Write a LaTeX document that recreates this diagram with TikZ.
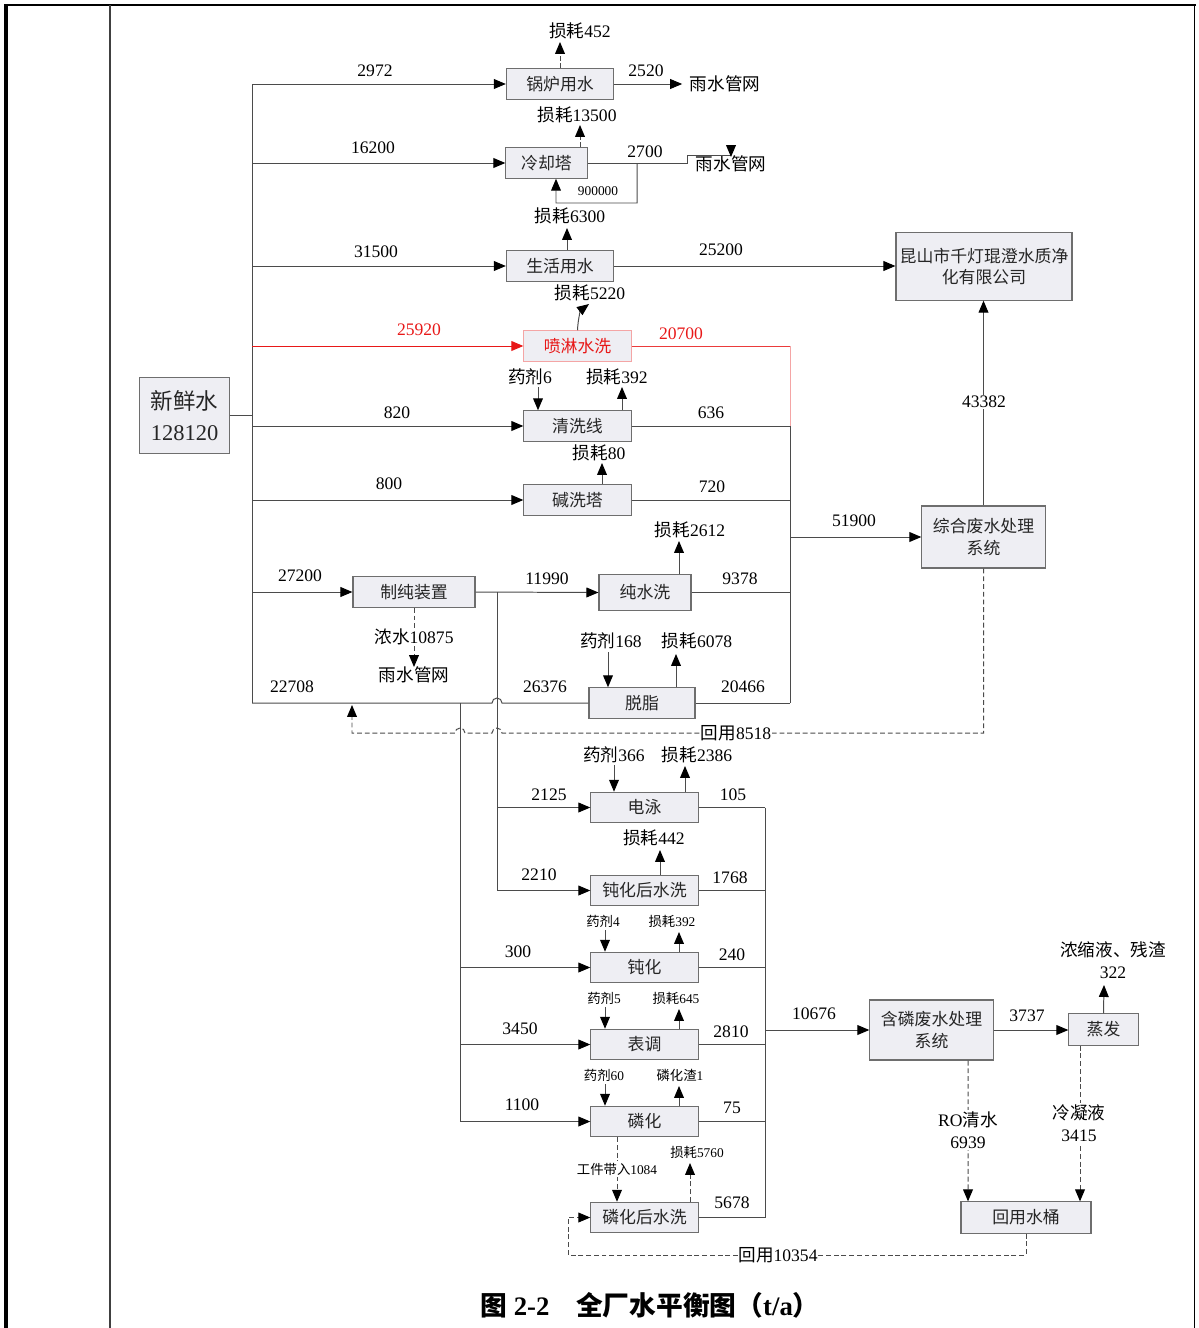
\documentclass[tikz,border=0pt]{standalone}
\usepackage{fontspec}
\setmainfont{Liberation Serif}
\newfontfamily\cjk{Noto Sans CJK SC}
\usepackage{tikz}
\usetikzlibrary{arrows.meta,calc,positioning}
\definecolor{boxfill}{RGB}{238,238,243}
\definecolor{boxedge}{RGB}{110,110,110}
\definecolor{pipe}{RGB}{75,75,75}
\definecolor{sprayred}{RGB}{232,24,24}
\definecolor{spraypink}{RGB}{244,165,165}
\newcommand{\zh}[1]{{\cjk #1}}

\begin{document}
\begin{tikzpicture}[x=0.025cm, y=-0.025cm,
  box/.style={draw=boxedge, fill=boxfill, line width=0.8pt, minimum height=0.76cm,
              inner sep=0pt, align=center, text=black!85, font=\fontsize{12}{15}\selectfont},
  redbox/.style={box, draw=spraypink, text=sprayred},
  pipeline/.style={draw=pipe, line width=0.7pt},
  arr/.style={pipeline, -{Triangle[length=8.5pt,width=7pt,color=black]}},
  redarr/.style={pipeline, draw=sprayred, -{Triangle[length=8.5pt,width=7pt,color=sprayred]}},
  darr/.style={arr, dash pattern=on 3.5pt off 2pt},
  num/.style={font=\fontsize{12.5}{15}\selectfont, inner sep=1pt},
  tinylbl/.style={font=\fontsize{9.5}{11}\selectfont, inner sep=1pt},
  twoline/.style={num, align=center, fill=white, font=\fontsize{12.5}{15.5}\selectfont}
]
\useasboundingbox (0,0) rectangle (1198,1328);

% ── Frame ──
\draw[line width=2.2pt] (6,4) -- (6,1328);
\draw[line width=1.8pt] (5,5) -- (1196,5);
\draw[line width=1.4pt] (1194.5,5) -- (1194.5,1328);
\draw[line width=1pt, black!75] (110,5) -- (110,1328);

% ── Boxes ──
\node[box, minimum width=2.23cm, minimum height=1.88cm, font=\fontsize{16}{22}\selectfont]
  (fresh) at (184.5,415.5) {\zh{新鲜水}\\128120};
\node[box, minimum width=2.68cm] (boiler) at (560,84) {\zh{锅炉用水}};
\node[box, minimum width=2.03cm] (cool) at (546.5,163) {\zh{冷却塔}};
\node[box, minimum width=2.68cm] (domestic) at (560,266) {\zh{生活用水}};
\node[redbox, minimum width=2.68cm] (spray) at (577.5,346) {\zh{喷淋水洗}};
\node[box, minimum width=2.68cm] (clean) at (577.5,426) {\zh{清洗线}};
\node[box, minimum width=2.68cm] (alkali) at (577.5,500) {\zh{碱洗塔}};
\node[box, minimum width=3.05cm] (pure) at (414,592) {\zh{制纯装置}};
\node[box, minimum width=2.3cm, minimum height=0.88cm] (purewash) at (645,592.5) {\zh{纯水洗}};
\node[box, minimum width=2.65cm] (degrease) at (642,703) {\zh{脱脂}};
\node[box, minimum width=2.68cm] (ep) at (644.5,807.5) {\zh{电泳}};
\node[box, minimum width=2.68cm] (passwash) at (644.5,890.5) {\zh{钝化后水洗}};
\node[box, minimum width=2.68cm] (passiv) at (644.5,967.5) {\zh{钝化}};
\node[box, minimum width=2.68cm] (surface) at (644.5,1044.5) {\zh{表调}};
\node[box, minimum width=2.68cm] (phos) at (644.5,1121.5) {\zh{磷化}};
\node[box, minimum width=2.68cm] (phoswash) at (644.5,1217.5) {\zh{磷化后水洗}};
\node[box, minimum width=4.4cm, minimum height=1.68cm] (plant) at (984,266.5)
  {\zh{昆山市千灯琨澄水质净}\\\zh{化有限公司}};
\node[box, minimum width=3.08cm, minimum height=1.55cm] (wwt) at (983.5,537)
  {\zh{综合废水处理}\\\zh{系统}};
\node[box, minimum width=3.08cm, minimum height=1.5cm] (pwt) at (931.5,1030)
  {\zh{含磷废水处理}\\\zh{系统}};
\node[box, minimum width=1.73cm, minimum height=0.78cm] (evap) at (1103.5,1029.5) {\zh{蒸发}};
\node[box, minimum width=3.25cm, minimum height=0.78cm] (tank) at (1026,1217.5) {\zh{回用水桶}};

% ── Fresh water bus ──
\coordinate (busTop) at (252,84);
\coordinate (busBot) at (252,703);
\draw[pipeline] (fresh.east) -- (fresh.east -| busTop);
\draw[pipeline] (busTop) -- (busBot);
\draw[arr] (busTop |- boiler.west) -- (boiler.west);
\draw[arr] (busTop |- cool.west) -- (cool.west);
\draw[arr] (busTop |- domestic.west) -- (domestic.west);
\draw[redarr] (busTop |- spray.west) -- (spray.west);
\draw[arr] (busTop |- clean.west) -- (clean.west);
\draw[arr] (busTop |- alkali.west) -- (alkali.west);
\draw[arr] (busTop |- pure.west) -- (pure.west);
\coordinate (hopPure) at (497,703);
\draw[pipeline] (busBot) -- ($(hopPure)+(-5,0)$) arc[start angle=180, end angle=0, radius=3.56pt]
  -- (degrease.west);

\node[num] (q2972) at (375,71) {2972};
\node[num] (q16200) at (373,148) {16200};
\node[num] (q31500) at (376,252) {31500};
\node[num, text=sprayred] (q25920) at (419,330) {25920};
\node[num] (q820) at (397,413) {820};
\node[num] (q800) at (389,484) {800};
\node[num] (q27200) at (300,576) {27200};
\node[num] (q22708) at (292,687) {22708};
\node[num] (q26376) at (545,687) {26376};

% ── Boiler and cooling tower ──
\node[num] (lossBoiler) at (580,31) {\zh{损耗}452};
\coordinate (lossBoilerTip) at (560,42);
\draw[darr] (lossBoilerTip |- boiler.north) -- (lossBoilerTip);
\node[num] (rain1) at (725,84) {\zh{雨水管网}};
\draw[arr] (boiler.east) -- ($(rain1.west)+(-6,0)$);
\node[num] (q2520) at (646,71) {2520};

\node[num] (lossCool) at (577,115) {\zh{损耗}13500};
\coordinate (lossCoolTip) at (580,125);
\draw[darr] (lossCoolTip |- cool.north) -- (lossCoolTip);
\node[num] (rain2) at (731,164) {\zh{雨水管网}};
\coordinate (rain2Tip) at (731,157);
\draw[pipeline] (cool.east) -- (687,163) -- (687,155) -- (731,155);
\draw[arr] (731,146) -- (rain2Tip);
\node[num] (q2700) at (645,152) {2700};
\coordinate (coolRet) at (637,163);
\draw[arr] (coolRet) |- (556,203) -- ($(cool.south)+(9.5,0)$);
\node[tinylbl] (q900000) at (598,191) {900000};

% ── Domestic water ──
\node[num] (lossDom) at (570,216) {\zh{损耗}6300};
\coordinate (lossDomTip) at (567,228);
\draw[arr] (lossDomTip |- domestic.north) -- (lossDomTip);
\draw[arr] (domestic.east) -- (domestic.east -| plant.west);
\node[num] (q25200) at (721,250) {25200};

% ── Spray washing ──
\node[num] (lossSpray) at (590,293) {\zh{损耗}5220};
\coordinate (lossSprayTip) at (589,304);
\draw[arr] (spray.north) .. controls (578,318) and (581,310) .. (lossSprayTip);
\node[num, text=sprayred] (q20700) at (681,334) {20700};

% ── Cleaning line and scrubber ──
\node[num] (agentClean) at (530,377) {\zh{药剂}6};
\coordinate (agentCleanTail) at (538,387);
\draw[arr] (agentCleanTail) -- (agentCleanTail |- clean.north);
\node[num] (lossClean) at (617,377) {\zh{损耗}392};
\coordinate (lossCleanTip) at (622,387);
\draw[arr] (lossCleanTip |- clean.north) -- (lossCleanTip);
\node[num] (lossAlkali) at (599,453) {\zh{损耗}80};
\coordinate (lossAlkaliTip) at (602,463);
\draw[arr] (lossAlkaliTip |- alkali.north) -- (lossAlkaliTip);

% ── Pure water ──
\draw[arr] (pure.east) -- (purewash.west);
\node[num] (q11990) at (547,579) {11990};
\node[num] (lossPure) at (690,530) {\zh{损耗}2612};
\coordinate (lossPureTip) at (679,541);
\draw[arr] (lossPureTip |- purewash.north) -- (lossPureTip);
\coordinate (rain3Tip) at (414,667);
\draw[darr] (pure.south) -- (rain3Tip);
\node[num, fill=white, inner sep=0.5pt] (brine) at (414,637) {\zh{浓水}10875};
\node[num] (rain3) at (414,675) {\zh{雨水管网}};

% ── Degreasing ──
\node[num] (agentDeg) at (611,641) {\zh{药剂}168};
\coordinate (agentDegTail) at (608,652);
\draw[arr] (agentDegTail) -- (agentDegTail |- degrease.north);
\node[num] (lossDeg) at (697,641) {\zh{损耗}6078};
\coordinate (lossDegTip) at (676,654);
\draw[arr] (lossDegTip |- degrease.north) -- (lossDegTip);

% ── Collector to general wastewater ──
\coordinate (colTop) at (790,346);
\coordinate (colRed) at (790,426);
\coordinate (colBot) at (790,703);
\draw[pipeline, draw=sprayred!85] (spray.east) -- (colTop);
\draw[pipeline, draw=spraypink] (colTop) -- (colRed);
\draw[pipeline] (colRed) -- (colBot);
\draw[pipeline] (clean.east) -- (clean.east -| colTop);
\draw[pipeline] (alkali.east) -- (alkali.east -| colTop);
\draw[pipeline] (purewash.east) -- (purewash.east -| colTop);
\draw[pipeline] (degrease.east) -- (colBot);
\draw[arr] (colTop |- wwt.west) -- (wwt.west);
\node[num] (q636) at (711,413) {636};
\node[num] (q720) at (712,487) {720};
\node[num] (q9378) at (740,579) {9378};
\node[num] (q20466) at (743,687) {20466};
\node[num] (q51900) at (854,521) {51900};
\draw[arr] (wwt.north) -- (wwt.north |- plant.south);
\node[num, fill=white] (q43382) at (984,402) {43382};

% ── Reuse 8518 ──
\coordinate (reuseTip) at (352,705);
\draw[darr] (wwt.south) -- (983.5,733) -- (502,733)
  arc[start angle=0, end angle=180, radius=3.56pt] -- (465,733)
  arc[start angle=0, end angle=180, radius=3.56pt] -- (352,733) -- (reuseTip);
\node[num, fill=white, inner sep=0.5pt] (reuse8518) at (736,733) {\zh{回用}8518};

% ── Pure water to coating lines ──
\coordinate (pureJ) at (497,592);
\draw[pipeline] (pureJ) -- (pureJ |- passwash.west);
\draw[arr] (pureJ |- ep.west) -- (ep.west);
\draw[arr] (pureJ |- passwash.west) -- (passwash.west);
\node[num] (q2125) at (549,795) {2125};
\node[num] (q2210) at (539,875) {2210};

% ── Second fresh water bus ──
\coordinate (bus2) at (460,703);
\draw[pipeline] (bus2) -- (bus2 |- phos.west);
\draw[arr] (bus2 |- passiv.west) -- (passiv.west);
\draw[arr] (bus2 |- surface.west) -- (surface.west);
\draw[arr] (bus2 |- phos.west) -- (phos.west);
\node[num] (q300) at (518,952) {300};
\node[num] (q3450) at (520,1029) {3450};
\node[num] (q1100) at (522,1105) {1100};

% ── Chemicals and losses ──
\node[num] (agentEp) at (614,755) {\zh{药剂}366};
\coordinate (agentEpTail) at (614,765);
\draw[arr] (agentEpTail) -- (agentEpTail |- ep.north);
\node[num] (lossEp) at (697,755) {\zh{损耗}2386};
\coordinate (lossEpTip) at (685,766);
\draw[arr] (lossEpTip |- ep.north) -- (lossEpTip);
\node[num] (lossPw) at (654,838) {\zh{损耗}442};
\coordinate (lossPwTip) at (660,850);
\draw[arr] (lossPwTip |- passwash.north) -- (lossPwTip);
\node[tinylbl] (agentPas) at (603,921) {\zh{药剂}4};
\coordinate (agentPasTail) at (605,930);
\draw[arr] (agentPasTail) -- (agentPasTail |- passiv.north);
\node[tinylbl] (lossPas) at (672,921) {\zh{损耗}392};
\coordinate (lossPasTip) at (679,932);
\draw[arr] (lossPasTip |- passiv.north) -- (lossPasTip);
\node[tinylbl] (agentSur) at (604,998) {\zh{药剂}5};
\coordinate (agentSurTail) at (605,1007);
\draw[arr] (agentSurTail) -- (agentSurTail |- surface.north);
\node[tinylbl] (lossSur) at (676,998) {\zh{损耗}645};
\coordinate (lossSurTip) at (679,1009);
\draw[arr] (lossSurTip |- surface.north) -- (lossSurTip);
\node[tinylbl] (agentPho) at (604,1075) {\zh{药剂}60};
\coordinate (agentPhoTail) at (605,1084);
\draw[arr] (agentPhoTail) -- (agentPhoTail |- phos.north);
\node[tinylbl] (slagPho) at (680,1075) {\zh{磷化渣}1};
\coordinate (slagPhoTip) at (679,1086);
\draw[arr] (slagPhoTip |- phos.north) -- (slagPhoTip);
\draw[darr] ($(phos.south)+(-27.5,0)$) -- ($(phoswash.north)+(-27.5,0)$);
\node[tinylbl, fill=white] (carry) at (617,1169) {\zh{工件带入}1084};
\node[tinylbl] (lossPhw) at (697,1152) {\zh{损耗}5760};
\coordinate (lossPhwTip) at (690,1163);
\draw[darr] (lossPhwTip |- phoswash.north) -- (lossPhwTip);

% ── Collector to phosphorus wastewater ──
\coordinate (col2Top) at (765,807.5);
\draw[pipeline] (col2Top) -- (col2Top |- phoswash.east);
\draw[pipeline] (ep.east) -- (col2Top);
\draw[pipeline] (passwash.east) -- (passwash.east -| col2Top);
\draw[pipeline] (passiv.east) -- (passiv.east -| col2Top);
\draw[pipeline] (surface.east) -- (surface.east -| col2Top);
\draw[pipeline] (phos.east) -- (phos.east -| col2Top);
\draw[pipeline] (phoswash.east) -- (phoswash.east -| col2Top);
\draw[arr] (col2Top |- pwt.west) -- (pwt.west);
\node[num] (q105) at (733,795) {105};
\node[num] (q1768) at (730,878) {1768};
\node[num] (q240) at (732,955) {240};
\node[num] (q2810) at (731,1032) {2810};
\node[num] (q75) at (732,1108) {75};
\node[num] (q5678) at (732,1203) {5678};
\node[num] (q10676) at (814,1014) {10676};

% ── Phosphorus wastewater treatment ──
\draw[arr] (pwt.east) -- (pwt.east -| evap.west);
\node[num] (q3737) at (1027,1016) {3737};
\node[twoline, fill=none] (residue) at (1113,960) {\zh{浓缩液、残渣}\\322};
\coordinate (residueTip) at (1104,985);
\draw[arr] (evap.north) -- (residueTip);
\draw[darr] ($(pwt.south)+(36.5,0)$) -- ($(tank.north)+(-58,0)$);
\node[twoline] (roWater) at (968,1130) {RO\zh{清水}\\6939};
\draw[darr] ($(evap.south)+(-23.5,0)$) -- ($(tank.north)+(54,0)$);
\node[twoline] (condensate) at (1079,1123) {\zh{冷凝液}\\3415};

% ── Reuse 10354 ──
\draw[darr] (tank.south) -- (1026,1255) -- (568,1255) -- (568,1217.5) -- (phoswash.west);
\node[num, fill=white, inner sep=0.5pt] (reuse10354) at (778,1255) {\zh{回用}10354};

% ── Caption ──
\node[font=\fontsize{19}{22}\selectfont\bfseries] (caption) at (650,1305)
  {\zh{图}~2-2\quad\zh{全厂水平衡图（}t/a\zh{）}};

\end{tikzpicture}
\end{document}
